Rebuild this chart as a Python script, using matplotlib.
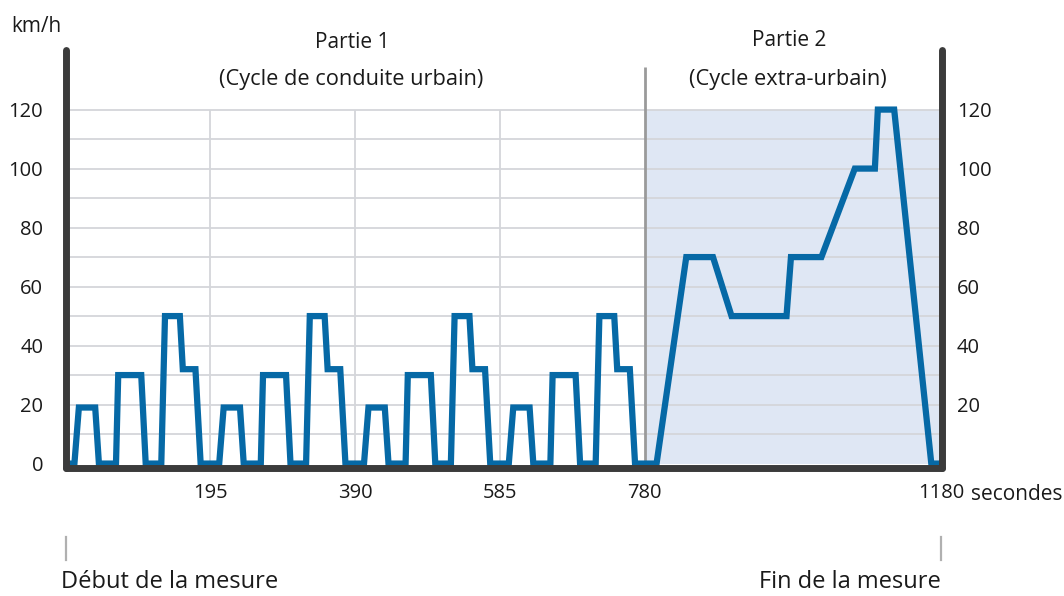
import matplotlib
matplotlib.use("Agg")
import matplotlib.pyplot as plt

# ---------------- data ----------------
time_s = [0, 12, 18, 40, 45, 68, 71, 102, 108, 129, 134, 154, 158, 175, 182,
          207, 213, 235, 240, 263, 266, 297, 303, 324, 329, 349, 353, 370, 377,
          402, 408, 430, 435, 458, 461, 492, 498, 519, 524, 544, 548, 565, 572,
          597, 603, 625, 630, 653, 656, 687, 693, 714, 719, 739, 743, 760, 767,
          796, 836, 872, 897, 971, 977, 1018, 1063, 1090, 1094, 1116, 1166, 1180]
speed_kmh = [0, 0, 19, 19, 0, 0, 30, 30, 0, 0, 50, 50, 32, 32, 0,
             0, 19, 19, 0, 0, 30, 30, 0, 0, 50, 50, 32, 32, 0,
             0, 19, 19, 0, 0, 30, 30, 0, 0, 50, 50, 32, 32, 0,
             0, 19, 19, 0, 0, 30, 30, 0, 0, 50, 50, 32, 32, 0,
             0, 70, 70, 50, 50, 70, 70, 100, 100, 120, 120, 0, 0]

x_ticks = [195, 390, 585, 780, 1180]
y_ticks_left = [0, 20, 40, 60, 80, 100, 120]
y_ticks_right = [20, 40, 60, 80, 100, 120]
y_grid = [10, 20, 30, 40, 50, 60, 70, 80, 90, 100, 110, 120]
x_grid = [195, 390, 585]
part_split = 780
cycle_end = 1180
speed_max = 120

FONT = ["Open Sans", "DejaVu Sans"]
plt.rcParams["font.family"] = FONT
TXT = "#1a1a1a"
W, H = 1064, 596

fig = plt.figure(figsize=(W / 100, H / 100), dpi=100)
ax = fig.add_axes([65.5 / W, 1 - 468 / H, (941.7 - 65.5) / W, (468 - 50) / H])
ax.set_xlim(0, cycle_end)
ax.set_ylim(-1.5, 140.2)

# shaded extra-urban area
ax.fill_between([part_split, cycle_end], 0, speed_max, color="#dfe7f4", lw=0, zorder=0.2)

# grid
ax.hlines(y_grid, 0, cycle_end, color="#d4d6da", lw=1.3, zorder=0.5)
ax.vlines(x_grid, 0, speed_max, color="#d4d6da", lw=1.3, zorder=0.5)
ax.vlines([part_split], 0, 134.5, color="#9a9a9a", lw=2.0, zorder=0.6)

# speed line
ax.plot(time_s, speed_kmh, color="#0669a6", lw=4.5, solid_joinstyle="miter",
        solid_capstyle="butt", zorder=2.2)

# spines
for s in ["left", "right", "bottom"]:
    ax.spines[s].set_color("#3b3b3b")
    ax.spines[s].set_linewidth(5.0)
    ax.spines[s].set_capstyle("round")
ax.spines["top"].set_visible(False)

ax.set_xticks(x_ticks)
ax.set_xticklabels([str(v) for v in x_ticks])
ax.set_yticks(y_ticks_left)
ax.set_yticklabels([str(v) for v in y_ticks_left])
ax.tick_params(axis="both", length=0, labelsize=14.5, labelcolor=TXT)
ax.tick_params(axis="y", pad=16)
ax.tick_params(axis="x", pad=11)

ax2 = ax.twinx()
ax2.set_ylim(ax.get_ylim())
ax2.set_yticks(y_ticks_right)
ax2.set_yticklabels([str(v) for v in y_ticks_right])
ax2.tick_params(axis="y", length=0, labelsize=14.5, labelcolor=TXT, pad=11)
for s in ax2.spines.values():
    s.set_visible(False)


def ftext(x, y, s, size=15, **kw):
    fig.text(x / W, 1 - y / H, s, color=TXT, fontsize=size, **kw)


ftext(11, 27, "km/h", ha="left", va="center")
ftext(971, 495, "secondes", ha="left", va="center")
ftext(352, 42, "Partie 1", ha="center", va="center")
ftext(351, 80, "(Cycle de conduite urbain)", size=15.7, ha="center", va="center")
ftext(789, 41, "Partie 2", ha="center", va="center")
ftext(788, 79, "(Cycle extra-urbain)", size=15.7, ha="center", va="center")
ftext(61, 582, "Début de la mesure", size=17, ha="left", va="center")
ftext(941, 582, "Fin de la mesure", size=17, ha="right", va="center")

# start / end markers below the axis
for xp in (66, 941):
    fig.add_artist(plt.Line2D([xp / W, xp / W], [1 - 537 / H, 1 - 560 / H],
                              color="#b0b0b0", lw=1.6))

fig.savefig("out.png", dpi=100)
